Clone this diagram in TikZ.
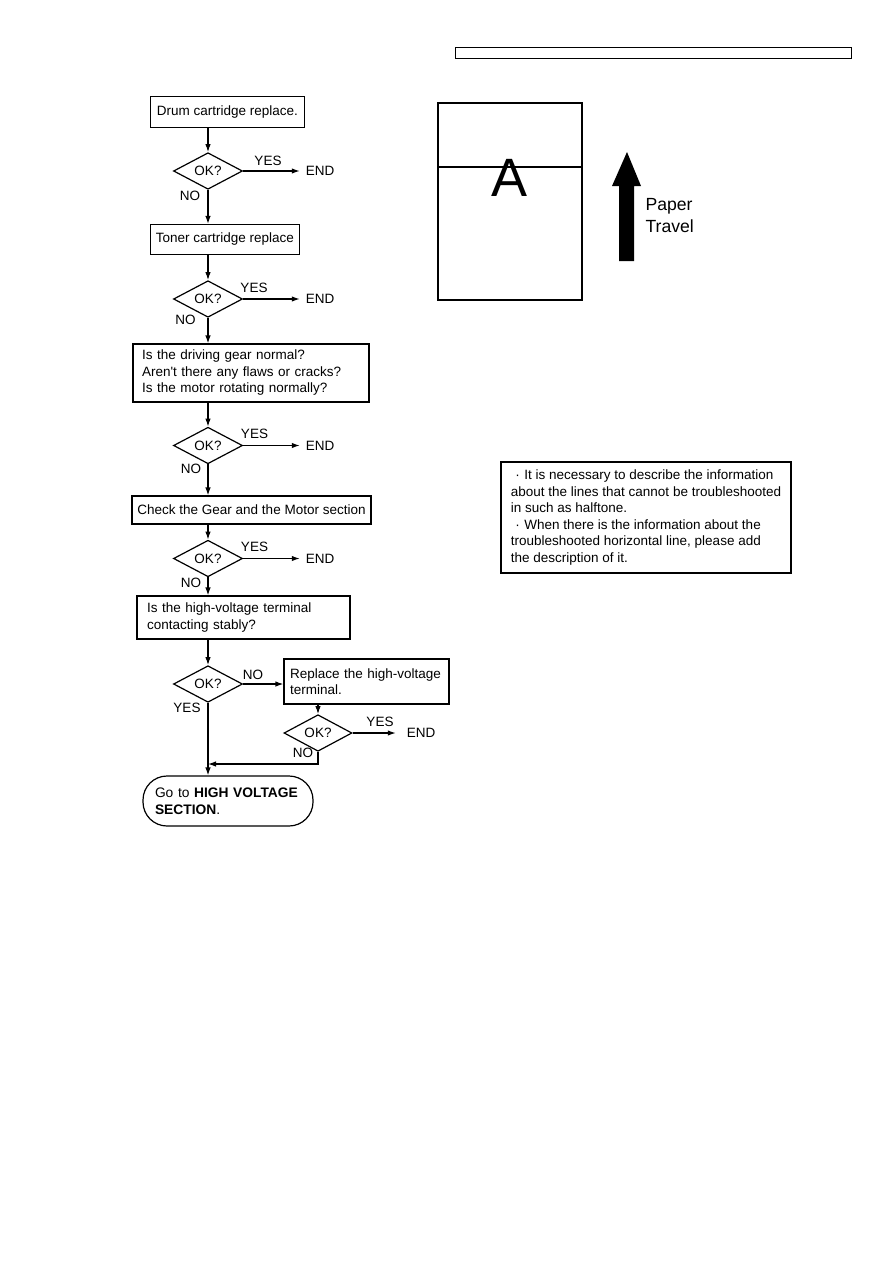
\documentclass[tikz,border=0pt]{standalone}
\usepackage{fontspec}
\setmainfont{Liberation Sans}
\usetikzlibrary{shapes.geometric,arrows.meta}

\begin{document}
\begin{tikzpicture}[x=1pt, y=-1pt, line width=1.2pt,
  font=\fontsize{13.5}{16.5}\selectfont,
  stepbox/.style={draw, inner sep=0pt, align=center},
  leftbox/.style={draw, align=left, inner ysep=0pt},
  okq/.style={draw, diamond, minimum width=69pt, minimum height=30pt, inner sep=0pt},
  lbl/.style={inner sep=0pt},
  endlbl/.style={inner sep=0pt, outer sep=6pt},
  flow/.style={-{Latex[length=8pt,width=5.5pt]}}]
\useasboundingbox (0,0) rectangle (893,1263);

% header strip
\node[draw, line width=0.9pt, minimum width=396pt, minimum height=11pt, inner sep=0pt] (hdr) at (653,52.5) {};

% flow chart
\node[stepbox, minimum width=154pt, minimum height=31pt] (drum) at (227.5,112) {Drum cartridge replace.};
\node[okq] (ok1) at (208,171) {OK?};
\node[lbl] (yes1) at (268,161) {YES};
\node[endlbl] (end1) at (320,171) {END};
\node[lbl] (no1) at (190,196) {NO};

\node[stepbox, minimum width=149pt, minimum height=30pt] (toner) at (225,239.5) {Toner cartridge replace};
\node[okq] (ok2) at (208,299) {OK?};
\node[lbl] (yes2) at (254,288) {YES};
\node[endlbl] (end2) at (320,299) {END};
\node[lbl] (no2) at (185.5,320) {NO};

\node[leftbox, text width=218pt, inner xsep=9pt, minimum height=58pt] (drive) at (251,373) {Is the driving gear normal?\\Aren\textquotesingle t there any flaws or cracks?\\Is the motor rotating normally?};
\node[okq] (ok3) at (208,445.5) {OK?};
\node[lbl] (yes3) at (254.5,434) {YES};
\node[endlbl] (end3) at (320,445.5) {END};
\node[lbl] (no3) at (191,469) {NO};

\node[stepbox, minimum width=239pt, minimum height=28pt] (gear) at (251.5,510) {Check the Gear and the Motor section};
\node[okq] (ok4) at (208,558.5) {OK?};
\node[lbl] (yes4) at (254.5,547) {YES};
\node[endlbl] (end4) at (320,558.5) {END};
\node[lbl] (no4) at (191,583) {NO};

\node[leftbox, text width=193pt, inner xsep=10pt, minimum height=43pt] (hv) at (243.5,617.5) {Is the high-voltage terminal\\contacting stably?};
\node[okq] (ok5) at (208,684) {OK?};
\node[lbl] (no5) at (253,675) {NO};
\node[lbl] (yes5) at (187,708) {YES};

\node[leftbox, text width=153pt, inner xsep=6pt, minimum height=45pt] (rep) at (366.5,681.5) {Replace the high-voltage\\terminal.};
\node[okq, minimum width=68pt, minimum height=29pt] (ok6) at (318,733) {OK?};
\node[lbl] (yes6) at (380,722) {YES};
\node[endlbl, outer sep=11pt] (end6) at (421,733) {END};
\node[lbl] (no6) at (303,753) {NO};
\coordinate (join) at (208,764);

\node[draw, rounded corners=24pt, minimum width=170pt, minimum height=50pt, text width=146pt, inner xsep=12pt, align=left, font=\fontsize{13.8}{17}\selectfont] (goto) at (228,801) {Go to \textbf{HIGH VOLTAGE}\\\textbf{SECTION}.};

\draw[flow] (drum.south -| ok1.north) -- (ok1.north);
\draw[flow] (ok1.east) -- (end1.west);
\draw[flow] (ok1.south) -- (ok1.south |- toner.north);
\draw[flow] (toner.south -| ok2.north) -- (ok2.north);
\draw[flow] (ok2.east) -- (end2.west);
\draw[flow] (ok2.south) -- (ok2.south |- drive.north);
\draw[flow] (drive.south -| ok3.north) -- (ok3.north);
\draw[flow] (ok3.east) -- (end3.west);
\draw[flow] (ok3.south) -- (ok3.south |- gear.north);
\draw[flow] (gear.south -| ok4.north) -- (ok4.north);
\draw[flow] (ok4.east) -- (end4.west);
\draw[flow] (ok4.south) -- (ok4.south |- hv.north);
\draw[flow] (hv.south -| ok5.north) -- (ok5.north);
\draw[flow] (ok5.east) -- (ok5.east -| rep.west);
\draw[flow] (rep.south -| ok6.north) -- (ok6.north);
\draw[flow] (ok6.east) -- (end6.west);
\draw[flow] (ok6.south) |- (join);
\draw[flow] (ok5.south) -- (ok5.south |- goto.north);

% paper sheet and travel direction
\node[draw, minimum width=144pt, minimum height=197pt, inner sep=0pt] (sheet) at (510,201.5) {};
\draw (sheet.west |- 0,167) -- (sheet.east |- 0,167);
\node[lbl, anchor=base, font=\fontsize{54}{54}\selectfont] (letter) at (509.5,196) {A};
\fill (619,261) -- (619,186) -- (612,186) -- (627,152) -- (641,186) -- (634,186) -- (634,261) -- cycle;
\node[lbl, anchor=base west, font=\fontsize{17.6}{22}\selectfont] (paper) at (645,210.5) {Paper};
\node[lbl, anchor=base west, font=\fontsize{17.6}{22}\selectfont] (travel) at (645,232.5) {Travel};

% note
\node[draw, align=left, minimum width=290pt, minimum height=111pt, inner sep=0pt] (note) at (646,517.5) {\makebox[1em]{·}It is necessary to describe the information\\about the lines that cannot be troubleshooted\\in such as halftone.\\\makebox[1em]{·}When there is the information about the\\troubleshooted horizontal line, please add\\the description of it.};
\end{tikzpicture}
\end{document}
